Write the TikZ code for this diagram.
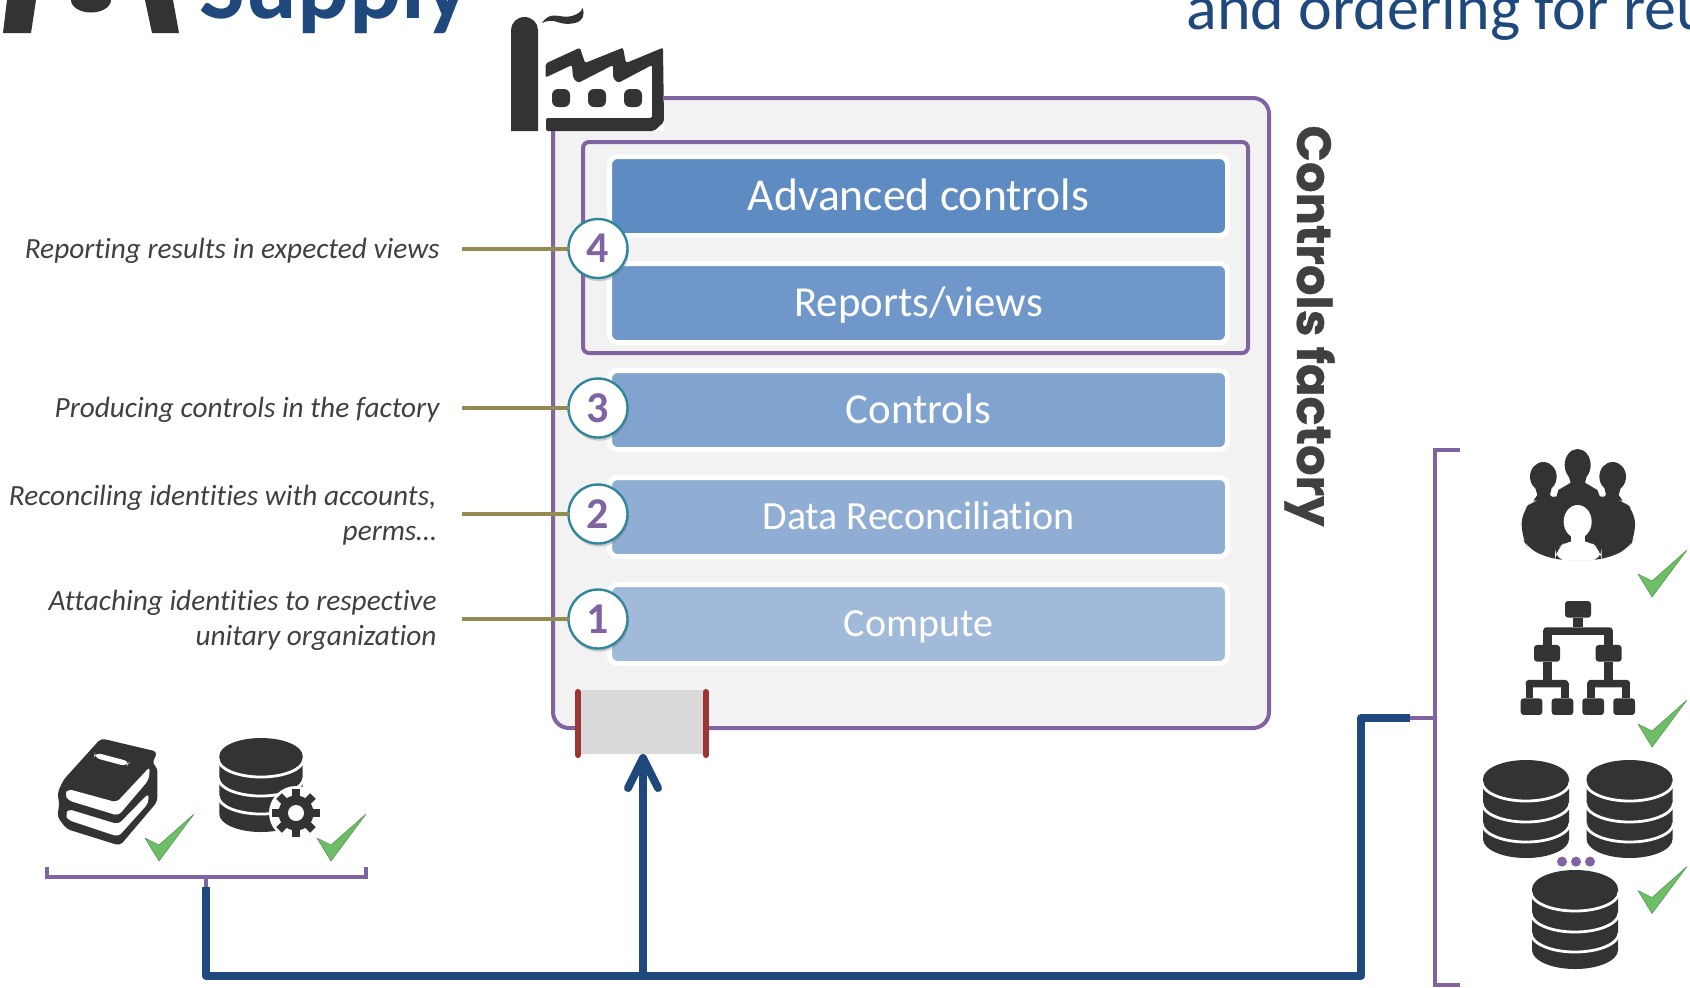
\documentclass[tikz,border=0pt]{standalone}
\usepackage{fontspec}
\setmainfont{Carlito}[Ligatures=NoCommon]
\newfontfamily\headfont{Poppins}[BoldFeatures={FakeBold=0.6}]
\usetikzlibrary{arrows.meta,shadows}
\definecolor{panelfill}{HTML}{F2F2F2}
\definecolor{plum}{HTML}{8064A2}
\definecolor{navy}{HTML}{1F497D}
\definecolor{olive}{HTML}{948A54}
\definecolor{teal}{HTML}{31859C}
\definecolor{ink}{HTML}{333333}
\definecolor{txt}{HTML}{404040}
\definecolor{brick}{HTML}{9C3433}
\definecolor{okgreen}{HTML}{6DBE67}
\definecolor{inletfill}{HTML}{D9D9D9}
\definecolor{bA}{HTML}{5E8BC2}
\definecolor{bB}{HTML}{6F97CA}
\definecolor{bC}{HTML}{80A4CF}
\definecolor{bD}{HTML}{90AED4}
\definecolor{bE}{HTML}{A1BADA}
\tikzset{
  layerbox/.style={draw=white,line width=2.5pt,rounded corners=4pt,minimum width=309pt,minimum height=39.5pt,inner sep=0pt,outer sep=0pt,text=white,text height=16pt,text depth=4pt},
  numdisc/.style={circle,draw=teal,line width=1.2pt,fill=white,minimum size=29.5pt,inner sep=0pt,outer sep=0pt,text=plum,font=\fontsize{22pt}{24pt}\selectfont\bfseries,drop shadow={shadow xshift=.6pt,shadow yshift=-1.6pt,opacity=.35}},
  note/.style={align=right,anchor=east,inner sep=0pt,text=txt,font=\fontsize{14.65pt}{17.4pt}\selectfont\itshape},
  tick/.style={olive,line width=2pt},
  bracket/.style={plum,line width=2pt,line join=miter},
  feed/.style={navy,line width=4pt,line join=round},
  darkpart/.style={fill=ink,rounded corners=1.5pt}
}
\newcommand{\dbicon}[8]{% cx rx ry top-centre-y c1 c2 c3 bottom-centre-y
  \fill[ink] (#1-#2,#4) arc[start angle=180,end angle=360,x radius=#2,y radius=#3]
     -- (#1+#2,#8) arc[start angle=0,end angle=180,x radius=#2,y radius=#3] -- cycle;
  \foreach \c in {#5,#6,#7}{
    \draw[white,line width=1.4pt] (#1-#2-1,\c) arc[start angle=180,end angle=0,x radius=#2+1,y radius=#3];
  }
}
\newcommand{\chk}[2]{%
  \fill[okgreen,draw=okgreen!80!black,line width=.3pt,line join=round] (#1,#2) -- (#1+14,#2+7) -- (#1+49,#2-24) -- (#1+14,#2+23) -- cycle;
}
\newcommand{\digit}[1]{\raisebox{-1.5pt}{#1}}
\begin{document}
\begin{tikzpicture}[x=.5pt,y=-.5pt]
\useasboundingbox (0,0) rectangle (1690,987);
\clip (0,0) rectangle (1690,987);

% cropped header pieces
\fill[ink] (3,33) -- (31,33) -- (36,0) -- (7,0) -- cycle;
\fill[ink] (152,33) -- (179,33) -- (173,0) -- (145,0) -- cycle;
\fill[ink] (71,0) arc[start angle=180,end angle=0,x radius=20,y radius=12.5] -- cycle;
\node[anchor=base west,inner sep=0pt,text=navy,font=\fontsize{48.4pt}{50pt}\selectfont\bfseries] (brand) at (199,18) {Supply};
\node[anchor=base west,inner sep=0pt,text=navy,font=\fontsize{32pt}{38pt}\selectfont] (headline) at (1186,29) {and ordering for reu};

% panel
\node[draw=plum,fill=panelfill,line width=2pt,rounded corners=8pt,minimum width=358pt,minimum height=315pt,inner sep=0pt,outer sep=0pt] (panel) at (911,413) {};
\fill[white] (535,90) rectangle (664,131);

% factory
\fill[ink] (511,131) -- (511,30) arc[start angle=180,end angle=360,x radius=13.5,y radius=13] -- (538,131) -- cycle;
\fill[ink,rounded corners=1pt] (545.5,63.5) -- (580,47.7) -- (585,63) -- (623,47.7) -- (626,63) -- (663,47.7) -- (664,122) -- (654,131) -- (546,131) -- (546,118) -- (652,118) -- (652,65) -- (618,83) -- (613,78) -- (613,65) -- (578,83) -- (573,78) -- (572,65) -- (545.5,77.5) -- cycle;
\foreach \wx in {552,588,624}{\fill[ink,rounded corners=3pt] (\wx,89) rectangle (\wx+18,107);}
\fill[ink] (542,23) .. controls (546,17) and (550,15.5) .. (554,15.5) .. controls (560,15.5) and (566,18) .. (572,16) .. controls (578,14) and (581,12) .. (582.6,8) .. controls (585,15) and (583,21) .. (575,23) .. controls (566,25) and (560,23) .. (554,21) .. controls (550,20.5) and (546,21) .. (542,23) -- cycle;

% group frame and layers
\node[draw=plum,line width=2pt,rounded corners=3pt,minimum width=332.5pt,minimum height=105.5pt,inner sep=0pt,outer sep=0pt] (group) at (915.5,247.5) {};
\node[layerbox,fill=bA,text depth=2pt,font=\fontsize{22.8pt}{26pt}\selectfont] (adv) at (918.5,196) {Advanced controls};
\node[layerbox,fill=bB,text depth=3pt,font=\fontsize{21.4pt}{26pt}\selectfont] (rep) at (918.5,303) {Reports/views};
\node[layerbox,fill=bC,text depth=3pt,font=\fontsize{21.4pt}{26pt}\selectfont] (ctl) at (918.5,410) {Controls};
\node[layerbox,fill=bD,font=\fontsize{20pt}{26pt}\selectfont] (rec) at (918.5,517) {Data Reconciliation};
\node[layerbox,fill=bE,font=\fontsize{20pt}{26pt}\selectfont] (cmp) at (918.5,624) {Compute};

% inlet
\node[fill=inletfill,minimum width=62pt,minimum height=32pt,inner sep=0pt,outer sep=0pt] (inlet) at (643,722) {};
\draw[brick,line width=3pt,line cap=round] (inlet.north west)++(-3,2) -- ++(0,63);
\draw[brick,line width=3pt,line cap=round] (inlet.north east)++(1,2) -- ++(0,63);

% notes and ticks
\node[numdisc] (c4) at (598,248.5) {\digit{4}};
\node[numdisc] (c3) at (598,408) {\digit{3}};
\node[numdisc] (c2) at (598,514) {\digit{2}};
\node[numdisc] (c1) at (598,619) {\digit{1}};
\coordinate (t4) at (462,248.5); \coordinate (t3) at (462,408); \coordinate (t2) at (462,514); \coordinate (t1) at (462,619);
\draw[tick] (t4) -- (c4.west);
\draw[tick] (t3) -- (c3.west);
\draw[tick] (t2) -- (c2.west);
\draw[tick] (t1) -- (c1.west);
\node[note] (n4) at (440,251) {Reporting results in expected views};
\node[note] (n3) at (440,410) {Producing controls in the factory};
\node[note] (n2) at (437,515) {Reconciling identities with accounts,\\perms…};
\node[note] (n1) at (437,620.5) {Attaching identities to respective\\unitary organization};

% side title
\node[rotate=-90,anchor=base west,inner sep=0pt,text=txt,font=\headfont\fontsize{24pt}{28pt}\selectfont\bfseries] (side) at (1297,125) {Controls factory};

% left bracket and feed
\coordinate (lbL) at (47,867); \coordinate (lbR) at (366,867); \coordinate (lbS) at (206,877); \coordinate (lbE) at (206,887);
\draw[bracket] (lbL) -- (47,877) -- (366,877) -- (lbR);
\draw[bracket] (lbS) -- (lbE);
% right bracket
\coordinate (rbT) at (1460,450); \coordinate (rbB) at (1460,985); \coordinate (rbM) at (1435,718); \coordinate (rbE) at (1410,718);
\draw[bracket] (rbT) -- (1435,450) -- (1435,985) -- (rbB);
\draw[bracket] (rbM) -- (rbE);
% feeds
\coordinate (junction) at (643,976);
\draw[feed] (lbE) -- (206,976) -- (1361,976) -- (1361,718) -- (rbE);
\draw[feed,-{Straight Barb[round,length=15pt,width=15pt]}] (junction) -- (inlet.south);

% books
\begin{scope}[shift={(40,725)},xscale=.3333,yscale=.3333]
\fill[ink,rounded corners=2pt] (183,40) -- (352,80) -- (336,118) -- (352,125) -- (352,230) -- (240,362) -- (80,312) -- (52,275) -- (58,235) -- (52,205) -- (70,165) -- cycle;
\fill[white,rounded corners=3pt] (165,82) -- (270,110) -- (260,124) -- (162,98) -- cycle;
\fill[white,rounded corners=2pt] (84,192) -- (230,232) -- (330,125) -- (326,165) -- (235,272) -- (84,226) -- (75,208) -- cycle;
\fill[white,rounded corners=2pt] (84,252) -- (235,298) -- (326,205) -- (325,235) -- (235,335) -- (84,285) -- (77,270) -- cycle;
\end{scope}
\chk{145}{838}
\chk{317}{838}
% database with gear
\dbicon{261}{41.7}{18}{756}{759}{778}{796}{814}
\fill[white] (296,813) circle[radius=27];
\foreach \a in {0,45,...,315}{\fill[ink,rotate around={\a:(296,813)}] (292,789) rectangle (300,800);}
\fill[ink] (296,813) circle[radius=17.5];
\fill[white] (296,813) circle[radius=8];

% people
\begin{scope}[shift={(1500,440)},xscale=.3333,yscale=.3333]
\fill[ink] (130,110) ellipse[x radius=40,y radius=44];
\fill[ink] (338,110) ellipse[x radius=40,y radius=44];
\fill[ink] (103,135) -- (157,135) -- (150,165) -- (170,182) -- (100,182) -- (112,165) -- cycle;
\fill[ink] (311,135) -- (365,135) -- (356,165) -- (368,182) -- (298,182) -- (318,165) -- cycle;
\fill[ink,rounded corners=6pt] (65,215) -- (100,180) -- (160,168) -- (310,168) -- (368,180) -- (405,215) -- (405,290) -- (385,328) -- (305,360) -- (165,360) -- (85,328) -- (65,290) -- cycle;
\fill[white] (175,150) -- (193,128) -- (273,128) -- (292,150) -- (300,168) -- (168,168) -- cycle;
\fill[ink] (233,75) ellipse[x radius=39,y radius=48];
\fill[ink] (205,105) -- (261,105) -- (255,128) -- (292,150) -- (302,175) -- (168,175) -- (175,150) -- (212,128) -- cycle;
\fill[white] (233,245) ellipse[x radius=42,y radius=50];
\fill[white] (212,275) rectangle (254,305);
\fill[white,rounded corners=6pt] (165,362) -- (165,330) -- (205,300) -- (262,300) -- (305,330) -- (305,362) -- cycle;
\end{scope}
\chk{1638}{574}
% hierarchy
\begin{scope}[shift={(1500,440)},xscale=.3333,yscale=.3333]
\fill[darkpart] (195,483) rectangle (273,533);
\fill[ink] (220,533) rectangle (248,562);
\fill[ink,rounded corners=1.5pt] (130,562) rectangle (338,585);
\fill[ink] (130,570) rectangle (155,615);
\fill[ink] (313,570) rectangle (338,615);
\fill[darkpart] (102,615) rectangle (180,665);
\fill[darkpart] (287,615) rectangle (365,665);
\fill[ink] (130,665) rectangle (155,720);
\fill[ink] (313,665) rectangle (338,720);
\fill[ink,rounded corners=1.5pt] (77,720) rectangle (205,742);
\fill[ink,rounded corners=1.5pt] (262,720) rectangle (390,742);
\foreach \lx in {77,183,262,367}{\fill[ink] (\lx,730) rectangle (\lx+23,775);}
\foreach \lx in {62,155,247,340}{\fill[darkpart] (\lx,775) rectangle (\lx+65,825);}
\end{scope}
\chk{1638}{724}
% data stores
\dbicon{1526}{43}{19}{779}{782}{803}{823}{839}
\dbicon{1629.5}{43}{19}{779}{782}{803}{823}{839}
\dbicon{1575}{43}{19}{889}{892}{913}{933}{950}
\foreach \dx in {1562,1576,1590}{\fill[plum] (\dx,861.6) circle[radius=5];}
\chk{1638}{890.5}
\end{tikzpicture}
\end{document}
